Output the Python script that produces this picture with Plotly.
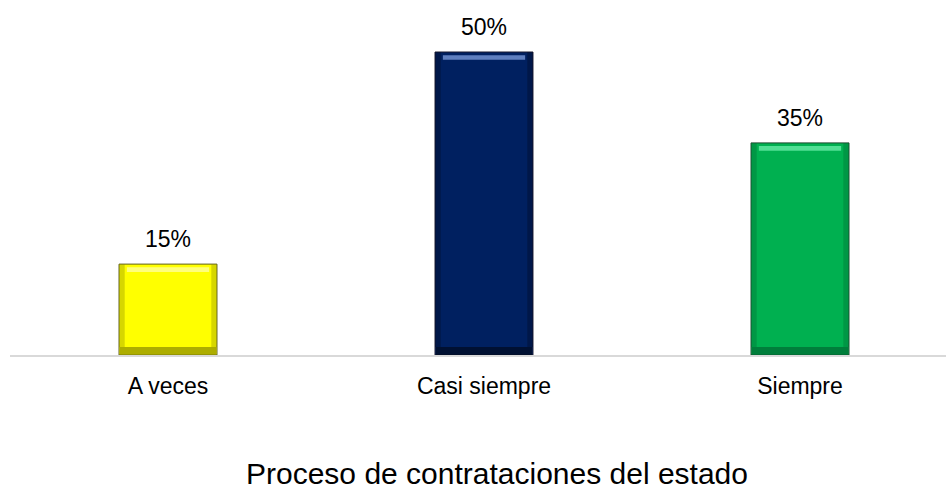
import plotly.graph_objects as go

# Survey responses: "Proceso de contrataciones del estado"
categories = ["A veces", "Casi siempre", "Siempre"]
percentages = [15, 50, 35]

base_colors = ["#FFFF00", "#002060", "#00B050"]
edge_colors = ["#5E5E20", "#1A1A30", "#1E4A30"]
light_colors = ["#FFFF90", "#7090D0", "#60E8A0"]
shadow_colors = ["#8A8A00", "#000A20", "#006A32"]

bar_w = 0.31
bevel = 1.3      # bevel thickness in percentage units
side_w = 0.018   # width of the shaded bevel sides, in category units

FONT = "Liberation Sans, Arial, sans-serif"

fig = go.Figure()

# main bars
fig.add_trace(go.Bar(
    x=categories, y=percentages, width=bar_w,
    marker=dict(color=base_colors, line=dict(color=edge_colors, width=1)),
    hoverinfo="skip",
))

# shaded left and right sides of the bevel
for off in (-bar_w / 2, bar_w / 2 - side_w):
    fig.add_trace(go.Bar(
        x=categories, y=[v - bevel for v in percentages],
        base=[bevel] * len(percentages),
        width=side_w, offset=off,
        marker=dict(color=shadow_colors, line=dict(width=0), opacity=0.35),
        hoverinfo="skip",
    ))

# top highlight of the bevel
fig.add_trace(go.Bar(
    x=categories, y=[bevel * 0.6] * len(percentages),
    base=[v - bevel for v in percentages], width=bar_w * 0.84,
    marker=dict(color=light_colors, line=dict(width=0), opacity=0.85),
    hoverinfo="skip",
))

# bottom shadow of the bevel
fig.add_trace(go.Bar(
    x=categories, y=[bevel] * len(percentages),
    base=[0] * len(percentages), width=bar_w * 0.98,
    marker=dict(color=shadow_colors, line=dict(width=0), opacity=0.7),
    hoverinfo="skip",
))

# value labels above each bar
value_labels = [
    dict(x=c, y=v, xref="x", yref="y", text=f"{v}%", showarrow=False,
         xanchor="center", yanchor="bottom", yshift=10,
         font=dict(family=FONT, size=23, color="#000000"))
    for c, v in zip(categories, percentages)
]

fig.update_layout(
    width=946, height=490,
    margin=dict(l=10, r=0, t=0, b=135),
    paper_bgcolor="white", plot_bgcolor="white",
    barmode="overlay", showlegend=False,
    font=dict(family=FONT, color="#000000"),
    xaxis=dict(
        range=[-0.5, 2.462], showgrid=False, zeroline=False,
        showline=True, linecolor="#D9D9D9", linewidth=1.5,
        ticks="", tickfont=dict(size=23, color="#000000"),
        ticklabelstandoff=10,
    ),
    yaxis=dict(range=[0, 58.58], visible=False),
    annotations=value_labels + [dict(
        text="Proceso de contrataciones del estado",
        xref="paper", yref="paper", x=0.52, y=-0.335,
        xanchor="center", yanchor="middle", showarrow=False,
        font=dict(family=FONT, size=30, color="#000000"),
    )],
)

fig.write_html("out.html")
